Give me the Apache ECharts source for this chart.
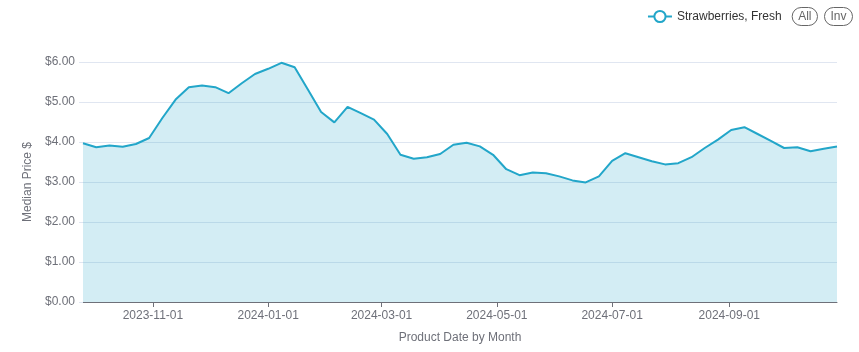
<!DOCTYPE html>
<html>
<head>
<meta charset="utf-8">
<script src="https://cdn.jsdelivr.net/npm/echarts@6/dist/echarts.min.js"></script>
<style>
html,body{margin:0;padding:0;background:#fff;}
#chart{width:859px;height:352px;}
</style>
</head>
<body>
<div id="chart"></div>
<script>
const seriesName = 'Strawberries, Fresh';
const dates = [
 '2023-09-25','2023-10-02','2023-10-09','2023-10-16','2023-10-23','2023-10-30',
 '2023-11-06','2023-11-13','2023-11-20','2023-11-27','2023-12-04','2023-12-11','2023-12-18','2023-12-25',
 '2024-01-01','2024-01-08','2024-01-15','2024-01-22','2024-01-29','2024-02-05','2024-02-12','2024-02-19','2024-02-26',
 '2024-03-04','2024-03-11','2024-03-18','2024-03-25','2024-04-01','2024-04-08','2024-04-15','2024-04-22','2024-04-29',
 '2024-05-06','2024-05-13','2024-05-20','2024-05-27','2024-06-03','2024-06-10','2024-06-17','2024-06-24',
 '2024-07-01','2024-07-08','2024-07-15','2024-07-22','2024-07-29','2024-08-05','2024-08-12','2024-08-19','2024-08-26',
 '2024-09-02','2024-09-09','2024-09-16','2024-09-23','2024-09-30','2024-10-07','2024-10-14','2024-10-21','2024-10-28'
];
const prices = [
 3.97,3.87,3.91,3.88,3.95,4.10,
 4.60,5.06,5.37,5.41,5.37,5.22,5.47,5.70,
 5.83,5.98,5.87,5.31,4.75,4.49,4.88,4.72,4.56,
 4.20,3.68,3.58,3.62,3.70,3.93,3.98,3.89,3.68,
 3.32,3.17,3.24,3.22,3.14,3.04,2.99,3.14,
 3.53,3.72,3.62,3.52,3.44,3.47,3.62,3.85,4.06,
 4.30,4.37,4.20,4.03,3.85,3.87,3.77,3.83,3.89
];
const xTickLabels = ['2023-11-01','2024-01-01','2024-03-01','2024-05-01','2024-07-01','2024-09-01'];
const yTicks = [0,1,2,3,4,5,6];

function ts(s){ const p = s.split('-').map(Number); return Date.UTC(p[0], p[1]-1, p[2]); }
function fmt(v){ const d = new Date(v); const m = d.getUTCMonth()+1, dd = d.getUTCDate();
  return d.getUTCFullYear() + '-' + (m<10?'0':'') + m + '-' + (dd<10?'0':'') + dd; }

const lineColor = '#22a6c9';
const textColor = '#6E7079';
const font = 'Liberation Sans, Arial, Helvetica, sans-serif';

const chart = echarts.init(document.getElementById('chart'), null, {renderer:'canvas'});
chart.setOption({
  animation: false,
  textStyle: {fontFamily: font},
  legend: {
    right: 1, top: 2,
    data: [seriesName],
    itemWidth: 24, itemHeight: 14,
    textStyle: {color: '#333', fontSize: 12, fontFamily: font},
    selector: [{type:'all', title:'All'}, {type:'inverse', title:'Inv'}],
    selectorPosition: 'end',
    selectorItemGap: 6,
    selectorButtonGap: 10,
    selectorLabel: {fontSize: 12, color: '#666', borderColor: '#666', fontFamily: font, padding: [3,6,3,6]}
  },
  grid: {left: 83, right: 22, top: 62, bottom: 50, containLabel: false},
  xAxis: {
    type: 'value',
    min: ts(dates[0]), max: ts(dates[dates.length-1]),
    name: 'Product Date by Month',
    nameLocation: 'middle', nameGap: 30,
    nameTextStyle: {color: textColor, fontSize: 12, fontFamily: font},
    axisLine: {lineStyle: {color: '#6E7079'}},
    axisTick: {show: true, customValues: xTickLabels.map(ts), length: 5},
    axisLabel: {customValues: xTickLabels.map(ts), formatter: v => fmt(v), color: textColor, fontSize: 12, margin: 8, fontFamily: font, showMinLabel: true, showMaxLabel: true},
    splitLine: {show: false}
  },
  yAxis: {
    type: 'value', min: yTicks[0], max: yTicks[yTicks.length-1], interval: 1,
    name: 'Median Price $',
    nameLocation: 'middle', nameGap: 43,
    nameTextStyle: {color: textColor, fontSize: 12, fontFamily: font},
    axisLine: {show: false},
    axisTick: {show: true, length: 4, lineStyle: {color: '#E0E6F1'}},
    axisLabel: {formatter: v => '$' + v.toFixed(2), color: textColor, fontSize: 12, margin: 8, fontFamily: font},
    splitLine: {lineStyle: {color: '#E0E6F1'}}
  },
  series: [{
    name: seriesName,
    type: 'line',
    data: dates.map((d,i) => [ts(d), prices[i]]),
    symbol: 'emptyCircle', symbolSize: 8,
    showSymbol: false,
    lineStyle: {color: lineColor, width: 2},
    itemStyle: {color: lineColor},
    areaStyle: {color: lineColor, opacity: 0.2}
  }]
});
</script>
</body>
</html>
